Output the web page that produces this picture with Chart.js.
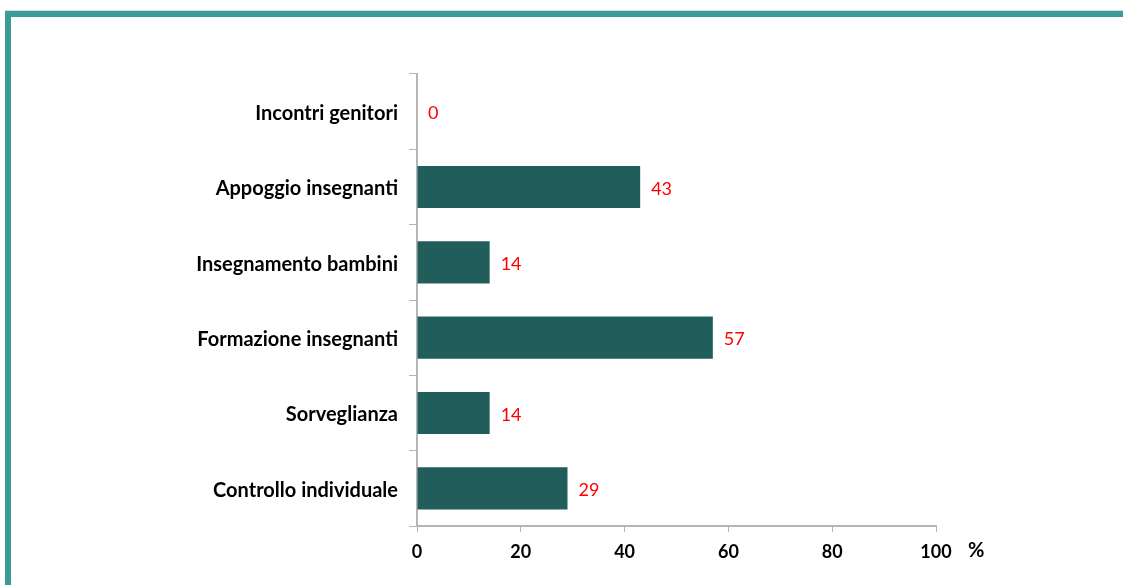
<!DOCTYPE html>
<html>
<head>
<meta charset="utf-8">
<script src="https://cdn.jsdelivr.net/npm/chart.js@4"></script>
<style>
  html, body { margin: 0; padding: 0; background: #fff; }
  #wrap { width: 1123px; height: 585px; position: relative; }
</style>
</head>
<body>
<div id="wrap"><canvas id="chart"></canvas></div>
<script>
const categories = [
  "Incontri genitori",
  "Appoggio insegnanti",
  "Insegnamento bambini",
  "Formazione insegnanti",
  "Sorveglianza",
  "Controllo individuale"
];
const values = [0, 43, 14, 57, 14, 29];
const xTicks = [0, 20, 40, 60, 80, 100];

const barColor = "#215d5b";
const axisColor = "#b5b5b5";
const frameColor = "#3a9b97";
const fontFamily = "Lato, 'Open Sans', sans-serif";

// teal frame on top and left edge
const framePlugin = {
  id: "frame",
  beforeDraw(chart) {
    const ctx = chart.ctx;
    ctx.save();
    ctx.fillStyle = "#dcdcdc";
    ctx.fillRect(5, 10, chart.width - 5, 1);
    ctx.fillStyle = frameColor;
    ctx.fillRect(5, 11, chart.width - 5, 6);
    ctx.fillRect(5, 11, 6, chart.height - 11);
    ctx.restore();
  }
};

// red value labels at the end of each bar
const valueLabels = {
  id: "valueLabels",
  afterDatasetsDraw(chart) {
    const ctx = chart.ctx;
    const meta = chart.getDatasetMeta(0);
    ctx.save();
    ctx.fillStyle = "#ff0000";
    ctx.font = "18px " + fontFamily;
    ctx.textBaseline = "middle";
    ctx.textAlign = "left";
    meta.data.forEach((bar, i) => {
      ctx.fillText(String(values[i]), bar.x + 11, bar.y + 2);
    });
    ctx.restore();
  }
};

// "%" unit next to the last x tick
const unitLabel = {
  id: "unitLabel",
  afterDraw(chart) {
    const ctx = chart.ctx;
    const x = chart.scales.x;
    ctx.save();
    ctx.fillStyle = "#000";
    ctx.font = "bold 20px " + fontFamily;
    ctx.textBaseline = "middle";
    ctx.textAlign = "left";
    ctx.fillText("%", x.getPixelForValue(100) + 32, 551);
    ctx.restore();
  }
};

new Chart(document.getElementById("chart"), {
  type: "bar",
  data: {
    labels: categories,
    datasets: [{
      data: values,
      backgroundColor: barColor,
      borderWidth: 0,
      categoryPercentage: 0.56,
      barPercentage: 1
    }]
  },
  options: {
    indexAxis: "y",
    responsive: true,
    maintainAspectRatio: false,
    animation: false,
    layout: { padding: { left: 0, right: 187, top: 74, bottom: 0 } },
    plugins: {
      legend: { display: false },
      tooltip: { enabled: false }
    },
    scales: {
      x: {
        min: 0,
        max: 100,
        afterBuildTicks(scale) {
          scale.ticks = xTicks.map(v => ({ value: v }));
        },
        afterFit(scale) { scale.height = 59; },
        grid: {
          drawOnChartArea: false,
          drawTicks: true,
          tickLength: 6,
          color: axisColor
        },
        border: { color: axisColor, width: 2 },
        ticks: {
          color: "#000",
          padding: 9,
          font: { family: fontFamily, size: 18, weight: "bold" }
        }
      },
      y: {
        afterFit(scale) { scale.width = 417; },
        grid: {
          drawOnChartArea: false,
          drawTicks: true,
          tickLength: 8,
          color: axisColor
        },
        border: { color: axisColor, width: 2 },
        ticks: {
          color: "#000",
          padding: 11,
          labelOffset: 2,
          font: { family: fontFamily, size: 20, weight: "bold" }
        }
      }
    }
  },
  plugins: [framePlugin, valueLabels, unitLabel]
});
</script>
</body>
</html>
